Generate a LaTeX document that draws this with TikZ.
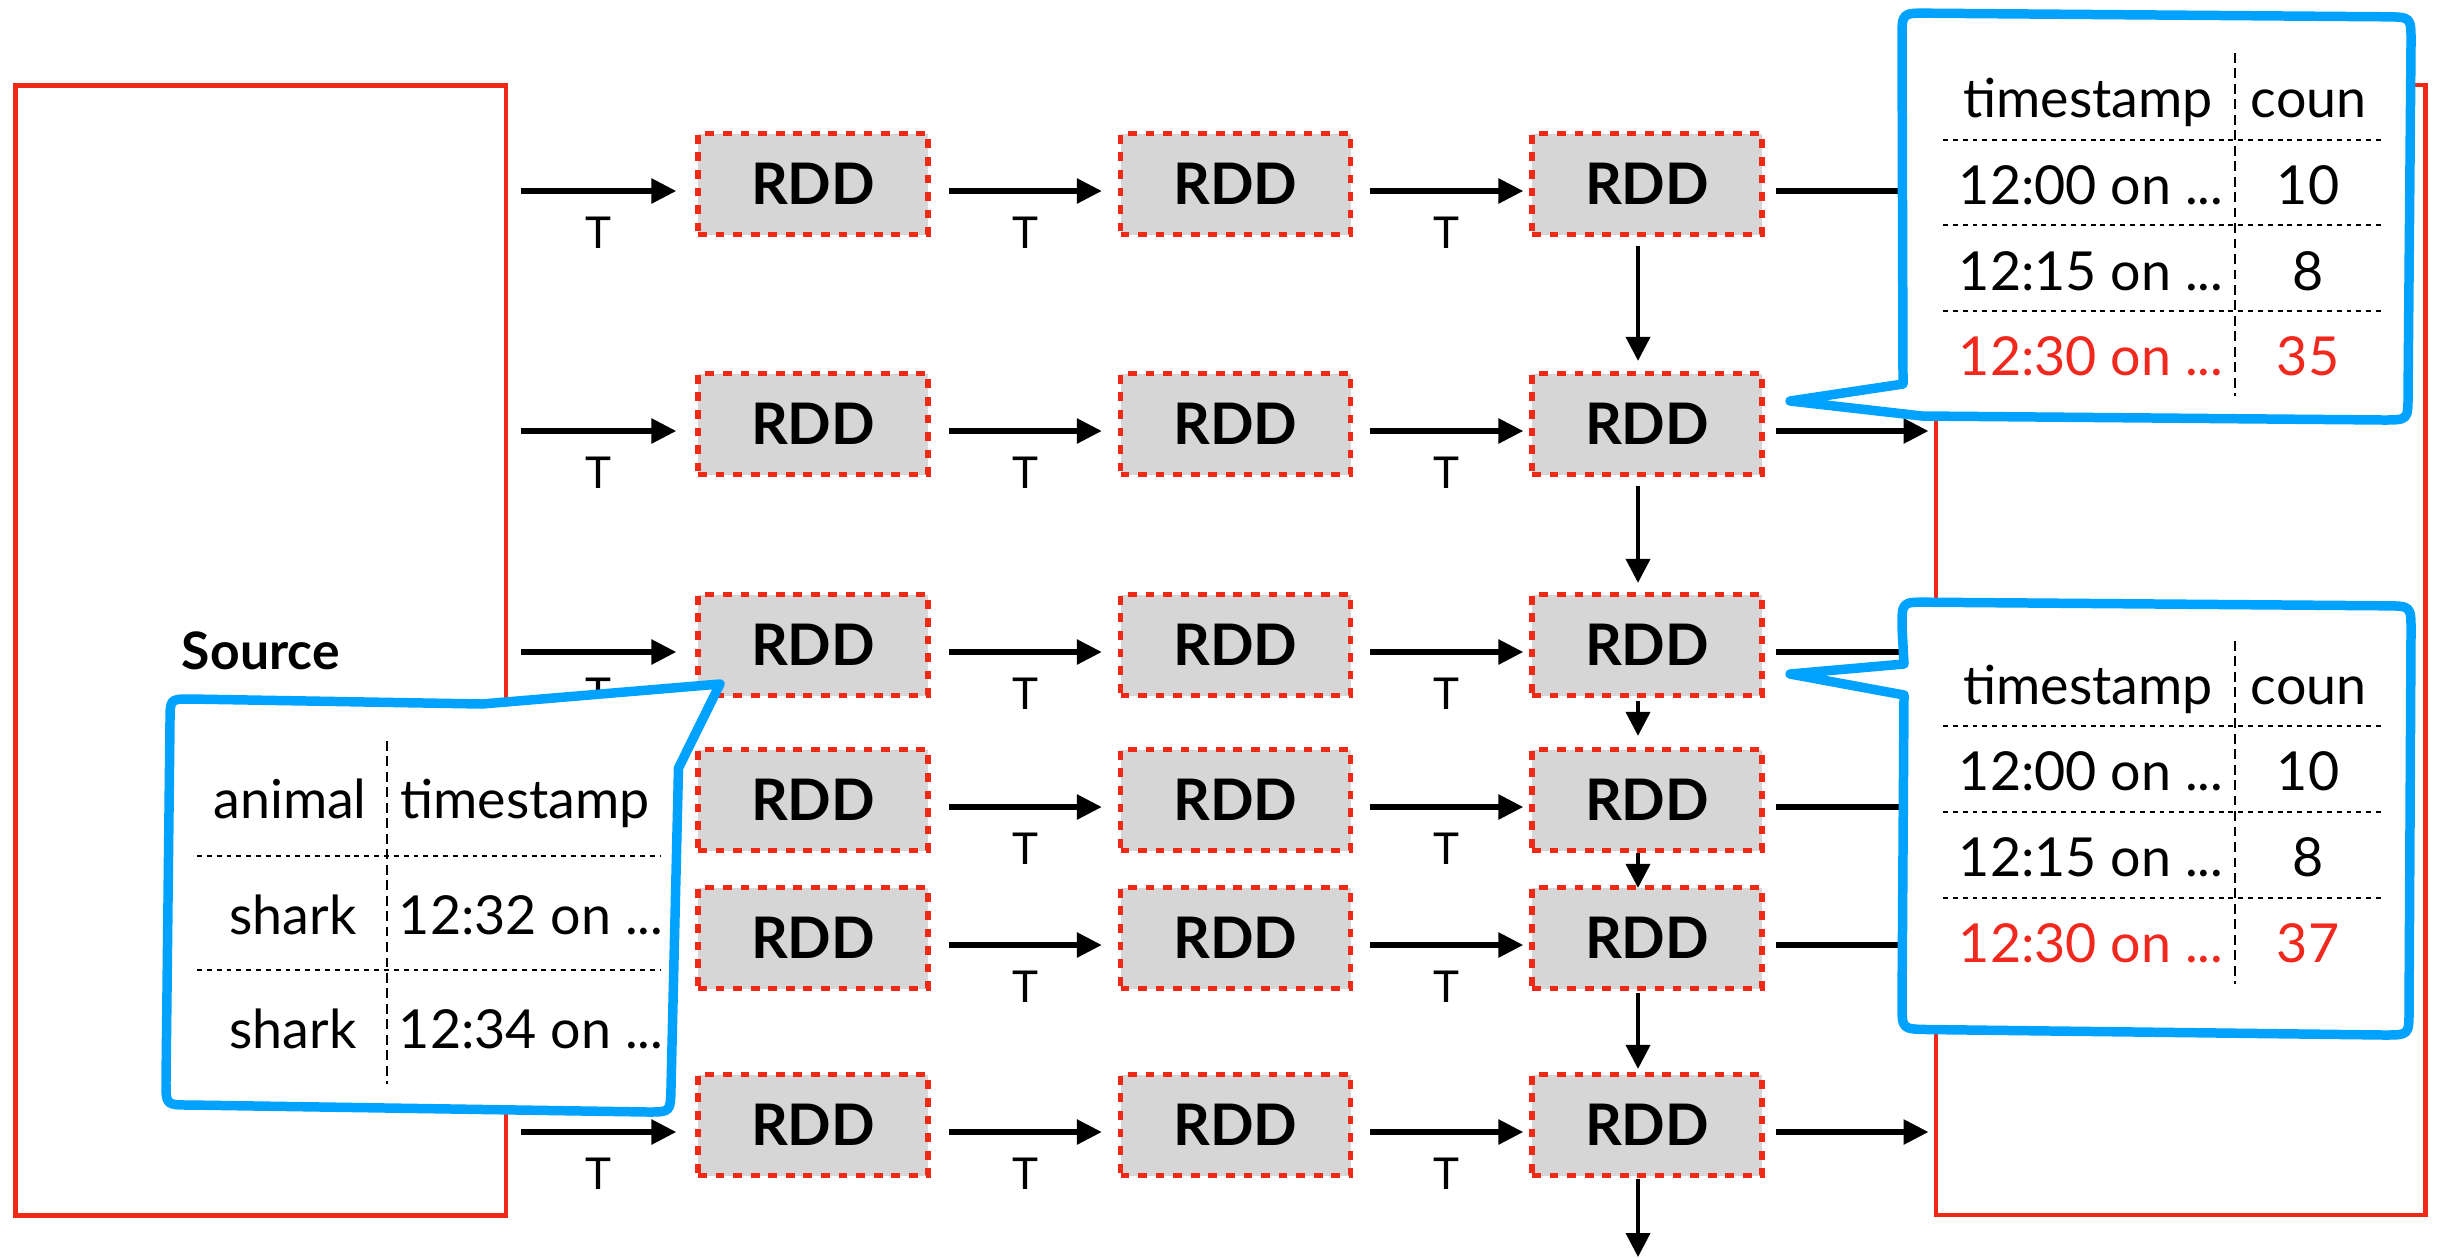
\documentclass[tikz,border=0pt]{standalone}
\usepackage{fontspec}
\setmainfont{Lato}
\usetikzlibrary{arrows.meta,calc}
\definecolor{rddred}{RGB}{240,40,22}
\definecolor{rddgray}{RGB}{214,214,214}
\definecolor{callblue}{RGB}{0,162,255}
\definecolor{tabred}{RGB}{240,40,30}
\begin{document}
\begin{tikzpicture}[x=0.1mm, y=-0.1mm,
  rdd/.style={draw=rddred, fill=rddgray, line width=1.5pt, dash pattern=on 2.5pt off 2.5pt,
    minimum width=23mm, minimum height=10.1mm, inner sep=0pt,
    font=\fontsize{16.3}{18}\selectfont\bfseries},
  bigbox/.style={draw=rddred, line width=1.4pt, inner sep=0pt},
  harr/.style={line width=1.6pt, -{Triangle[length=2.5mm,width=2.4mm]}},
  varr/.style={line width=1.1pt, -{Triangle[length=2.4mm,width=2.4mm]}},
  tl/.style={midway, anchor=base, yshift=-5.7mm, inner sep=0pt, font=\fontsize{12.5}{14}\selectfont},
  callout/.style={draw=callblue, fill=white, line width=2.7pt, line join=round},
  hdr/.style={anchor=base, inner sep=0pt, font=\fontsize{15.3}{17}\selectfont},
  dat/.style={anchor=base, inner sep=0pt, font=\fontsize{15.3}{17}\selectfont},
  hdot/.style={line width=0.75pt, dash pattern=on 1.4pt off 1.4pt},
  vdash/.style={line width=0.7pt, dash pattern=on 2.8pt off 1.6pt},
]
\fill[white] (0,0) rectangle (2438,1257);
\useasboundingbox (0,0) rectangle (2438,1257);

% source and sink
\node[bigbox, minimum width=49.04mm, minimum height=112.93mm,
  font=\fontsize{14.7}{17}\selectfont\bfseries] (src) at (260.8,650.4) {Source};
\node[bigbox, minimum width=48.9mm, minimum height=113mm] (snk) at (2180.5,650) {};

% RDD grid
\foreach \r/\y in {1/184,2/424,3/645,4/800,5/938,6/1125}{
  \node[rdd] (c1r\r) at (813,\y) {RDD};
  \node[rdd] (c2r\r) at (1235.5,\y) {RDD};
  \node[rdd] (c3r\r) at (1647,\y) {RDD};
}

% horizontal arrows
\foreach \r in {1,2,3,6}{
  \draw[harr] ($(src.east |- c1r\r.west)+(13,7)$) -- node[tl]{T} ($(c1r\r.west)+(-19,7)$);
}
\foreach \r in {1,...,6}{
  \draw[harr] ($(c1r\r.east)+(18,7)$) -- node[tl]{T} ($(c2r\r.west)+(-16,7)$);
  \draw[harr] ($(c2r\r.east)+(17,7)$) -- node[tl]{T} ($(c3r\r.west)+(-6,7)$);
  \draw[harr] ($(c3r\r.east)+(11,7)$) -- ($(snk.west |- c3r\r.east)+(-5,7)$);
}

% vertical arrows
\draw[varr] ($(c3r1.south)+(-9,9)$) -- ($(c3r2.north)+(-9,-10)$);
\draw[varr] ($(c3r2.south)+(-9,9)$) -- ($(c3r3.north)+(-9,-9)$);
\draw[varr] ($(c3r3.south)+(-9,3)$) -- ($(c3r4.north)+(-9,-11)$);
\draw[varr] ($(c3r4.south)+(-9,0)$) -- ($(c3r5.north)+(-9,3)$);
\draw[varr] ($(c3r5.south)+(-9,2)$) -- ($(c3r6.north)+(-9,-3)$);
\coordinate (bottomend) at (1638,1257);
\draw[varr] ($(c3r6.south)+(-9,1)$) -- (bottomend);

% callout 1 (top right)
\draw[callout] (1927,13.2) -- (2386,16.8) .. controls (2411,17) .. (2411,42)
  -- (2408,395) .. controls (2408,420) .. (2383,420) -- (1922,416) -- (1790,401)
  -- (1903,384) -- (1902,38) .. controls (1902,13) .. (1927,13.2) -- cycle;
\draw[vdash] (2235,53) -- (2235,396);
\foreach \yy in {140,225,311} \draw[hdot] (1943,\yy) -- (2382,\yy);
\node[hdr] (h1a) at (2088,117.6) {timestamp};
\node[hdr, anchor=base west] (h1b) at (2250,117.6) {coun};
\node[dat] (d1a) at (2091,204) {12:00 on ...};
\node[dat] (d1b) at (2308,204) {10};
\node[dat] (d1c) at (2091,290) {12:15 on ...};
\node[dat] (d1d) at (2308,290) {8};
\node[dat, text=tabred] (d1e) at (2091,375.5) {12:30 on ...};
\node[dat, text=tabred] (d1f) at (2308,375.5) {35};

% callout 2 (lower right)
\draw[callout] (1927,602.2) -- (2386,605.8) .. controls (2411,606) .. (2411,631)
  -- (2409,1010) .. controls (2409,1035) .. (2384,1035) -- (1927,1029.5)
  .. controls (1902,1029) .. (1902,1004) -- (1904,695) -- (1790,674) -- (1904,664)
  -- (1902,627) .. controls (1902,602) .. (1927,602.2) -- cycle;
\draw[vdash] (2235,641) -- (2235,984);
\foreach \yy in {726,812,898} \draw[hdot] (1943,\yy) -- (2382,\yy);
\node[hdr] (h2a) at (2088,704) {timestamp};
\node[hdr, anchor=base west] (h2b) at (2250,704) {coun};
\node[dat] (d2a) at (2091,790.5) {12:00 on ...};
\node[dat] (d2b) at (2308,790.5) {10};
\node[dat] (d2c) at (2091,876) {12:15 on ...};
\node[dat] (d2d) at (2308,876) {8};
\node[dat, text=tabred] (d2e) at (2091,962) {12:30 on ...};
\node[dat, text=tabred] (d2f) at (2308,962) {37};

% callout 3 (left)
\draw[callout] (190,699) -- (482,704) -- (720,684) -- (678.5,768) -- (671,1088)
  .. controls (670.5,1112) .. (648,1112) -- (190,1105) .. controls (166,1105) .. (166,1082)
  -- (170,722) .. controls (170,699) .. (190,699) -- cycle;
\draw[vdash] (387,741) -- (387,1084);
\foreach \yy in {856,970} \draw[hdot] (197,\yy) -- (661,\yy);
\node[hdr] (h3a) at (290,818) {animal};
\node[hdr] (h3b) at (525,818) {timestamp};
\node[dat] (d3a) at (293,934) {shark};
\node[dat] (d3b) at (531,934) {12:32 on ...};
\node[dat] (d3c) at (293,1048) {shark};
\node[dat] (d3d) at (531,1048) {12:34 on ...};
\end{tikzpicture}
\end{document}
